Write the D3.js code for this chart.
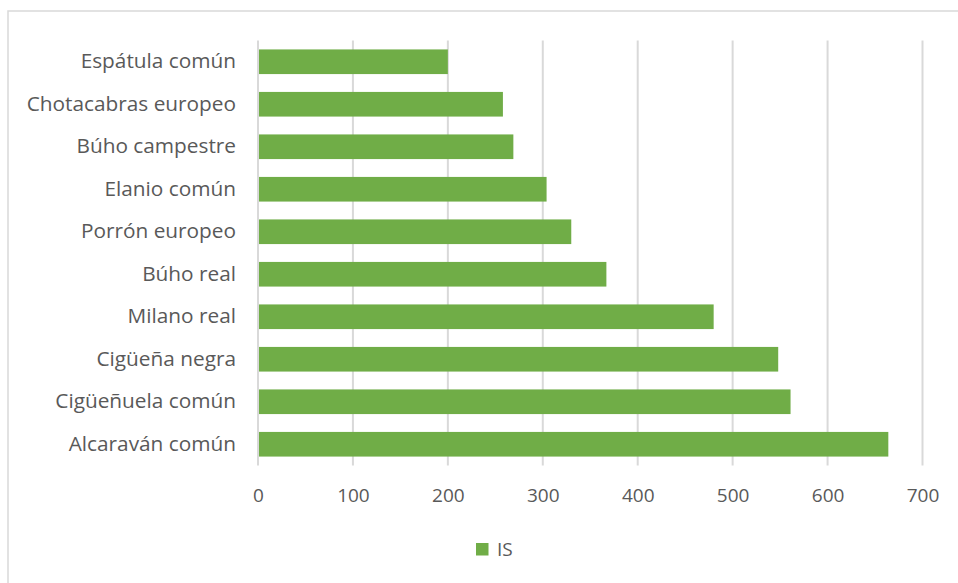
<!DOCTYPE html>
<html>
<head>
<meta charset="utf-8">
<script src="https://cdn.jsdelivr.net/npm/d3@7"></script>
<style>
  html, body { margin: 0; padding: 0; background: #fff; }
  svg { display: block; }
</style>
</head>
<body>
<svg id="chart" width="958" height="583"></svg>
<script>
// Species, top to bottom
const species = [
  "Espátula común", "Chotacabras europeo", "Búho campestre", "Elanio común",
  "Porrón europeo", "Búho real", "Milano real", "Cigüeña negra",
  "Cigüeñuela común", "Alcaraván común"
];
// IS value for each species
const isValues = [200, 258, 269, 304, 330, 367, 480, 548, 561, 664];
const xTicks = [0, 100, 200, 300, 400, 500, 600, 700];
const seriesName = "IS";

const FONT = "'Open Sans', sans-serif";
const TEXT = "#595959";
const GRID = "#d9d9d9";
const BAR = "#70ad47";

const svg = d3.select("#chart");

// chart frame
svg.append("rect")
  .attr("x", 8).attr("y", 11).attr("width", 958).attr("height", 583)
  .attr("fill", "none").attr("stroke", GRID).attr("stroke-width", 1.5);

const plot = { left: 258, right: 922.5, top: 40.5, bottom: 465.5 };

const x = d3.scaleLinear().domain([0, 700]).range([plot.left, plot.right]);
const y = d3.scaleBand().domain(species).range([plot.top, plot.bottom])
  .paddingInner(0.42).paddingOuter(0.21);

// vertical gridlines
svg.append("g")
  .selectAll("line").data(xTicks).join("line")
  .attr("x1", d => x(d)).attr("x2", d => x(d))
  .attr("y1", plot.top).attr("y2", plot.bottom)
  .attr("stroke", GRID).attr("stroke-width", 2);

// bars
svg.append("g")
  .selectAll("rect").data(species).join("rect")
  .attr("x", x(0) + 1)
  .attr("y", d => y(d))
  .attr("width", (d, i) => x(isValues[i]) - x(0) - 1)
  .attr("height", y.bandwidth())
  .attr("fill", BAR);

// category axis labels
const yAxis = d3.axisLeft(y).tickSize(0).tickPadding(22);
const gy = svg.append("g").attr("transform", `translate(${plot.left},0)`).call(yAxis);
gy.select(".domain").remove();
gy.selectAll("text").attr("font-family", FONT).attr("font-size", 20.8)
  .attr("fill", TEXT);

// value axis labels
const xAxis = d3.axisBottom(x).tickValues(xTicks).tickSize(0).tickPadding(23);
const gx = svg.append("g").attr("transform", `translate(0,${plot.bottom})`).call(xAxis);
gx.select(".domain").remove();
gx.selectAll("text").attr("font-family", FONT).attr("font-size", 19)
  .attr("fill", TEXT);

// legend
const legend = svg.append("g").attr("transform", "translate(476,543)");
legend.append("rect").attr("width", 12.5).attr("height", 12.5).attr("fill", BAR);
legend.append("text").attr("x", 21).attr("y", 6.5).attr("dy", "0.35em")
  .attr("font-family", FONT).attr("font-size", 19).attr("fill", TEXT)
  .text(seriesName);
</script>
</body>
</html>
